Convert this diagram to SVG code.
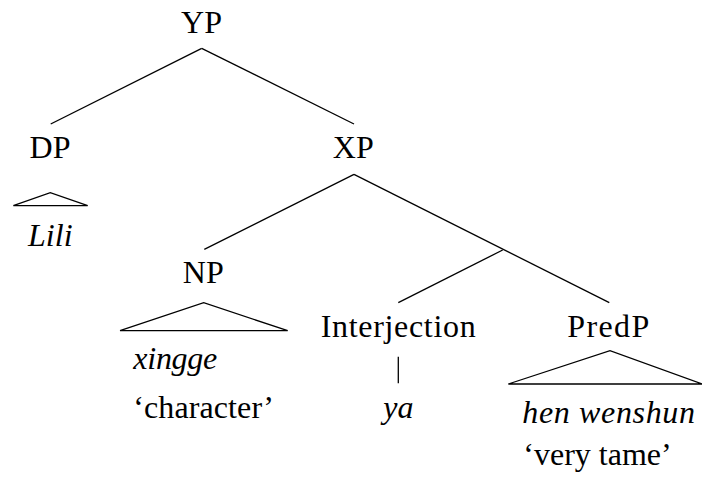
<svg xmlns="http://www.w3.org/2000/svg" width="702" height="480" viewBox="0 0 702 480">
<style>
text{font-size:32px;fill:#000}
.c{text-anchor:middle}
.i{font-style:italic}
line,polyline{stroke:#000;stroke-width:1.3;fill:none}
</style>
<rect width="702" height="480" fill="#fff"/>
<g id="connectors">
<line x1="201.7" y1="48.3" x2="50.7" y2="124"/>
<line x1="201.7" y1="48.3" x2="354" y2="124"/>
<line x1="354" y1="174.3" x2="204.3" y2="249.3"/>
<line x1="354" y1="174.3" x2="609.3" y2="302.7"/>
<line x1="502.7" y1="250" x2="398.3" y2="302.7"/>
<line x1="398.3" y1="356.7" x2="398.3" y2="383.3"/>
</g>
<g font-family="Liberation Serif, DejaVu Serif, serif">
<g id="YP"><text class="c" x="201.5" y="32.7">YP</text></g>
<g id="DP"><text class="c" x="50" y="158">DP</text>
<polyline points="13.3,205.7 50.3,192.7 87.7,205.7 13.3,205.7"/>
<text class="c i" x="50.3" y="246">Lili</text></g>
<g id="XP"><text class="c" x="353.3" y="158">XP</text></g>
<g id="NP"><text class="c" x="203.3" y="283.3">NP</text>
<polyline points="120,330.7 203.7,302.7 287.7,330.7 120,330.7"/>
<text class="i" x="133.3" y="369" textLength="84">xingge</text>
<text x="133.3" y="418.3" textLength="140.7">‘character’</text></g>
<g id="Interjection"><text class="c" x="398.2" y="336.7" textLength="155">Interjection</text>
<text class="c i" x="398.3" y="418.3">ya</text></g>
<g id="PredP"><text class="c" x="608.3" y="336.7" textLength="82">PredP</text>
<polyline points="508.3,384 610,350.7 702,384 508.3,384"/>
<text class="i" x="522.3" y="423.3" textLength="172.7">hen wenshun</text>
<text x="523.3" y="465">‘very tame’</text></g>
</g>
</svg>
